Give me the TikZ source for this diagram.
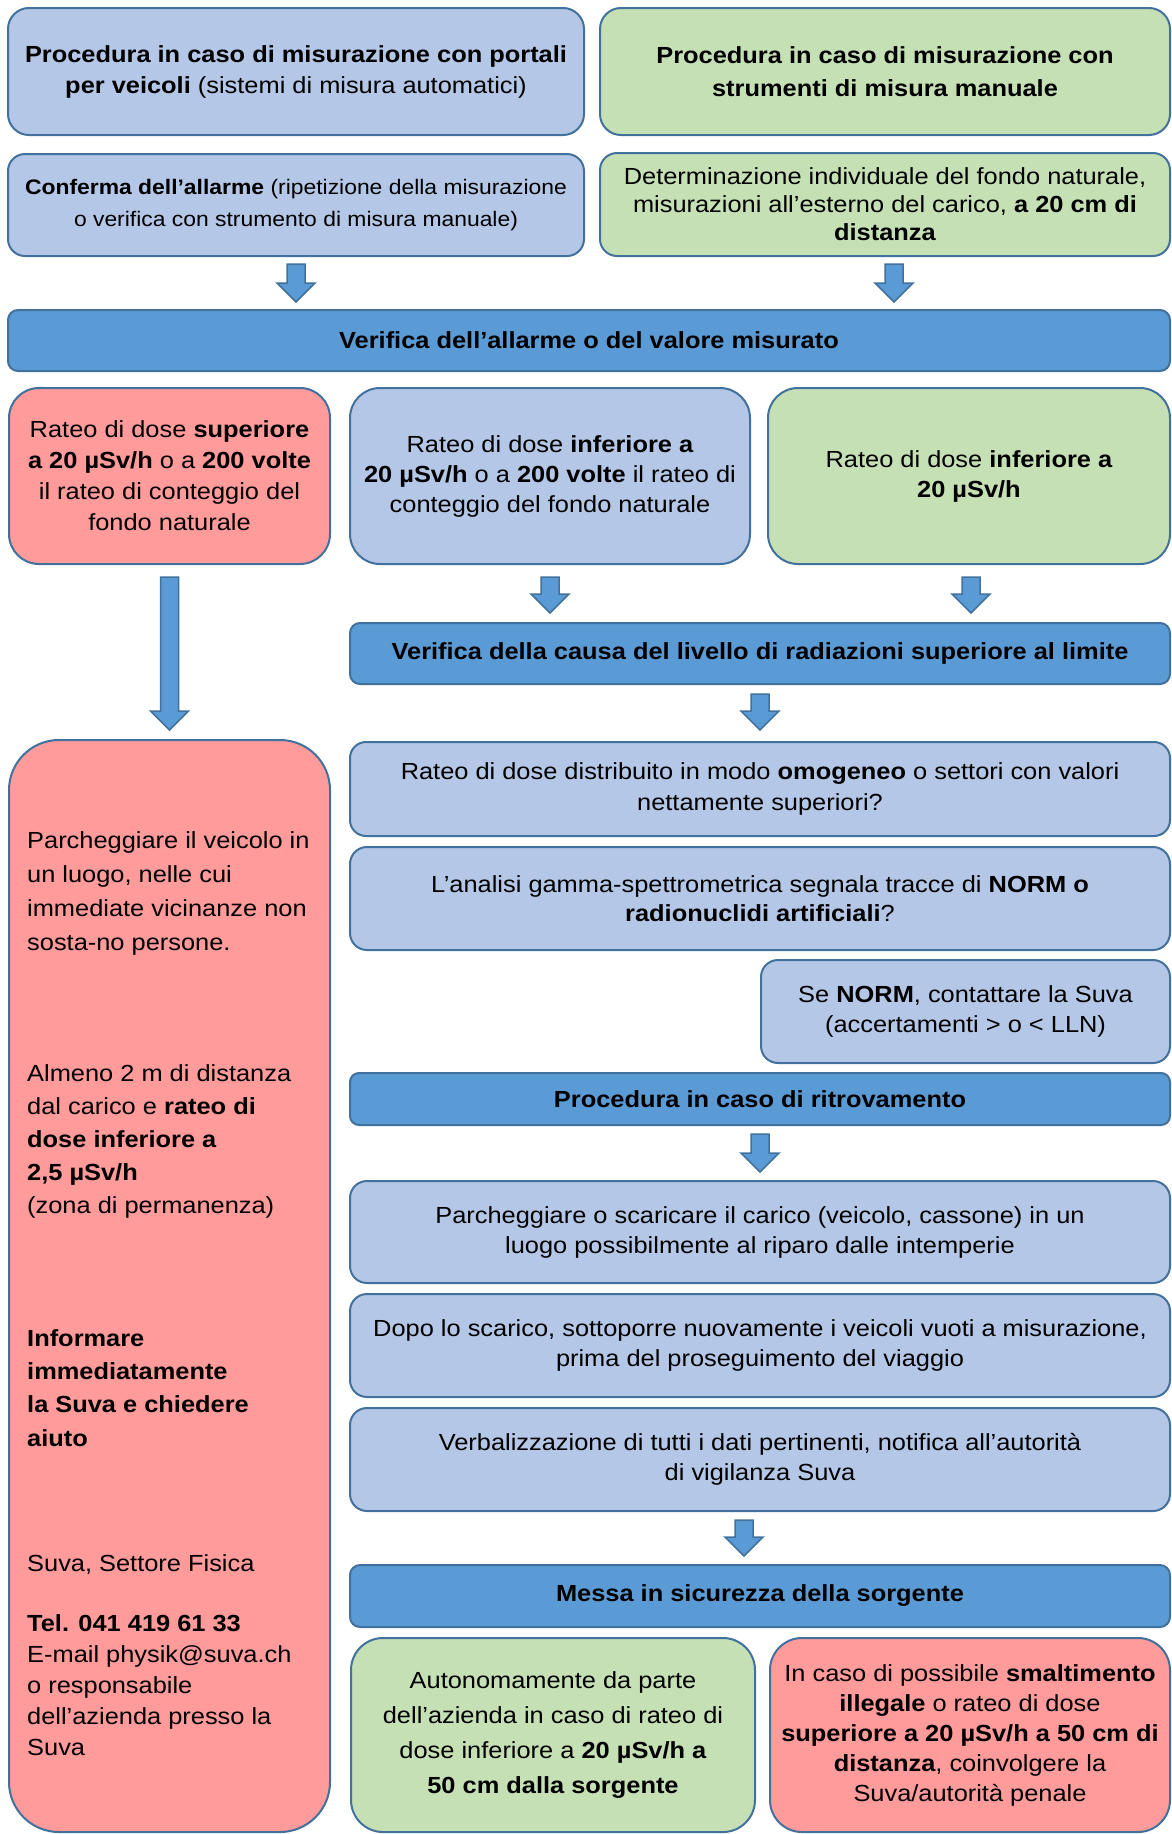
\documentclass[tikz,border=0pt]{standalone}
\usepackage{fontspec}
\setmainfont{Liberation Sans}[FakeStretch=1.09]
\usetikzlibrary{calc}
\definecolor{lblue}{HTML}{B4C7E7}
\definecolor{lgreen}{HTML}{C5E0B4}
\definecolor{lred}{HTML}{FF9B9B}
\definecolor{barblue}{HTML}{5B9BD5}
\definecolor{edgecol}{HTML}{41719C}
\newcommand{\fs}[1]{\fontsize{23.3}{#1}\selectfont}
\begin{document}
\begin{tikzpicture}[x=1pt,y=-1pt,
  basebox/.style={draw=edgecol, line width=2pt, inner sep=0pt, align=center, font=\fs{30}, text=black},
  bluebox/.style={basebox, fill=lblue},
  greenbox/.style={basebox, fill=lgreen},
  redbox/.style={basebox, fill=lred},
  barbox/.style={basebox, fill=barblue, font=\fs{30}\bfseries, rounded corners=10pt},
  sz/.style 2 args={minimum width=#1pt, minimum height=#2pt},
  redtext/.style={anchor=north west, inner sep=0pt, align=left, text=black},
  blockarrow/.style={draw=edgecol, fill=barblue, line width=1.5pt, line join=miter,
    to path={let \p1=(\tikztostart), \p2=(\tikztotarget) in
      (\x1-9pt,\y1) -- (\x1+9pt,\y1) -- (\x1+9pt,\y2+19pt) -- (\x1+19pt,\y2+19pt)
      -- (\x1,\y2) -- (\x1-19pt,\y2+19pt) -- (\x1-9pt,\y2+19pt) -- cycle}}
]
\useasboundingbox (0,0) rectangle (1172,1834);
\fill[white] (0,0) rectangle (1172,1834);

% top row
\node[bluebox, sz={576}{127}, rounded corners=21pt, font=\fs{31}] (p1) at (296,71.5)
  {\textbf{Procedura in caso di misurazione con portali}\\\textbf{per veicoli} (sistemi di misura automatici)};
\node[greenbox, sz={570}{127}, rounded corners=21pt, font=\fs{33}] (p2) at (885,71.5)
  {\textbf{Procedura in caso di misurazione con}\\\textbf{strumenti di misura manuale}};

\node[bluebox, sz={576}{102}, rounded corners=17pt, font=\fontsize{21}{32}\selectfont] (c1) at (296,205)
  {\textbf{Conferma dell’allarme} (ripetizione della misurazione\\o verifica con strumento di misura manuale)};
\node[greenbox, sz={570}{103}, rounded corners=17pt, font=\fs{28}] (c2) at (885,204.5)
  {Determinazione individuale del fondo naturale,\\misurazioni all’esterno del carico, \textbf{a 20 cm di}\\\textbf{distanza}};

\node[barbox, sz={1162}{61}] (v1) at (589,340.5) {Verifica dell’allarme o del valore misurato};

% third row
\node[redbox, sz={321}{176}, rounded corners=30pt, font=\fs{31}] (ra) at (169.5,476)
  {Rateo di dose \textbf{superiore}\\\textbf{a 20 µSv/h} o a \textbf{200 volte}\\il rateo di conteggio del\\fondo naturale};
\node[bluebox, sz={400}{176}, rounded corners=30pt, font=\fs{30}] (rb) at (550,476)
  {Rateo di dose \textbf{inferiore a}\\\textbf{20 µSv/h} o a \textbf{200 volte} il rateo di\\conteggio del fondo naturale};
\node[greenbox, sz={402}{176}, rounded corners=30pt, font=\fs{30}] (rc) at (969,476)
  {Rateo di dose \textbf{inferiore a}\\\textbf{20 µSv/h}};

\node[barbox, sz={820}{61}] (v2) at (760,653.5) {Verifica della causa del livello di radiazioni superiore al limite};

% big red box
\node[redbox, sz={321}{1092}, rounded corners=50pt] (big) at (169.5,1286) {};
\node[redtext, font=\fs{34}] (t1) at (27,828)
  {\rule{0pt}{20pt}Parcheggiare il veicolo in\\un luogo, nelle cui\\immediate vicinanze non\\sosta-no persone.};
\node[redtext, font=\fs{33}] (t2) at (27,1061)
  {\rule{0pt}{20pt}Almeno 2 m di distanza\\dal carico e \textbf{rateo di}\\\textbf{dose inferiore a}\\\textbf{2,5 µSv/h}\\(zona di permanenza)};
\node[redtext, font=\fs{33.3}\bfseries] (t3) at (27,1326)
  {\rule{0pt}{20pt}Informare\\immediatamente\\la Suva e chiedere\\aiuto};
\node[redtext, font=\fs{31}] (t4) at (27,1551)
  {\rule{0pt}{20pt}Suva, Settore Fisica};
\node[redtext, font=\fs{31}] (t5) at (27,1611)
  {\rule{0pt}{20pt}\textbf{Tel. 041 419 61 33}\\E-mail physik@suva.ch\\o responsabile\\dell’azienda presso la\\Suva};

% right column
\node[bluebox, sz={820}{94}, rounded corners=16pt, font=\fs{31}] (om) at (760,789)
  {Rateo di dose distribuito in modo \textbf{omogeneo} o settori con valori\\nettamente superiori?};
\node[bluebox, sz={820}{103}, rounded corners=17pt, font=\fs{29}] (an) at (760,898.5)
  {L’analisi gamma-spettrometrica segnala tracce di \textbf{NORM o}\\\textbf{radionuclidi artificiali}?};
\node[bluebox, sz={409}{103}, rounded corners=17pt, font=\fs{30}] (no) at (965.5,1011.5)
  {Se \textbf{NORM}, contattare la Suva\\(accertamenti > o < LLN)};

\node[barbox, sz={820}{52}, rounded corners=9pt] (v3) at (760,1099) {Procedura in caso di ritrovamento};

\node[bluebox, sz={820}{102}, rounded corners=17pt] (pk) at (760,1232)
  {Parcheggiare o scaricare il carico (veicolo, cassone) in un\\luogo possibilmente al riparo dalle intemperie};
\node[bluebox, sz={820}{103}, rounded corners=17pt] (dp) at (760,1345.5)
  {Dopo lo scarico, sottoporre nuovamente i veicoli vuoti a misurazione,\\prima del proseguimento del viaggio};
\node[bluebox, sz={820}{103}, rounded corners=17pt] (vb) at (760,1459.5)
  {Verbalizzazione di tutti i dati pertinenti, notifica all’autorità\\di vigilanza Suva};

\node[barbox, sz={820}{62}] (v4) at (760,1596) {Messa in sicurezza della sorgente};

\node[greenbox, sz={404}{194}, rounded corners=32pt, font=\fs{35}] (gb) at (553,1735)
  {Autonomamente da parte\\dell’azienda in caso di rateo di\\dose inferiore a \textbf{20 µSv/h a}\\\textbf{50 cm dalla sorgente}};
\node[redbox, sz={400}{194}, rounded corners=32pt, font=\fs{30}] (rr) at (970,1735)
  {In caso di possibile \textbf{smaltimento}\\\textbf{illegale} o rateo di dose\\\textbf{superiore a 20 µSv/h a 50 cm di}\\\textbf{distanza}, coinvolgere la\\Suva/autorità penale};

% arrows
\draw[blockarrow] ([yshift=-7pt]c1.south) to ([yshift=7pt]v1.north);
\draw[blockarrow] ([xshift=9pt,yshift=-7pt]c2.south) to ([yshift=7pt]v1.north);
\draw[blockarrow] ([yshift=-12pt]ra.south) to ([yshift=9pt]big.north);
\draw[blockarrow] ([yshift=-12pt]rb.south) to ([yshift=9pt]v2.north);
\draw[blockarrow] ([xshift=2pt,yshift=-12pt]rc.south) to ([yshift=9pt]v2.north);
\draw[blockarrow] ([yshift=-9pt]v2.south) to ([yshift=11pt]om.north);
\draw[blockarrow] ([yshift=-8pt]v3.south) to ([yshift=8pt]pk.north);
\draw[blockarrow] ([xshift=-16pt,yshift=-8pt]vb.south) to ([yshift=8pt]v4.north);
\end{tikzpicture}
\end{document}
